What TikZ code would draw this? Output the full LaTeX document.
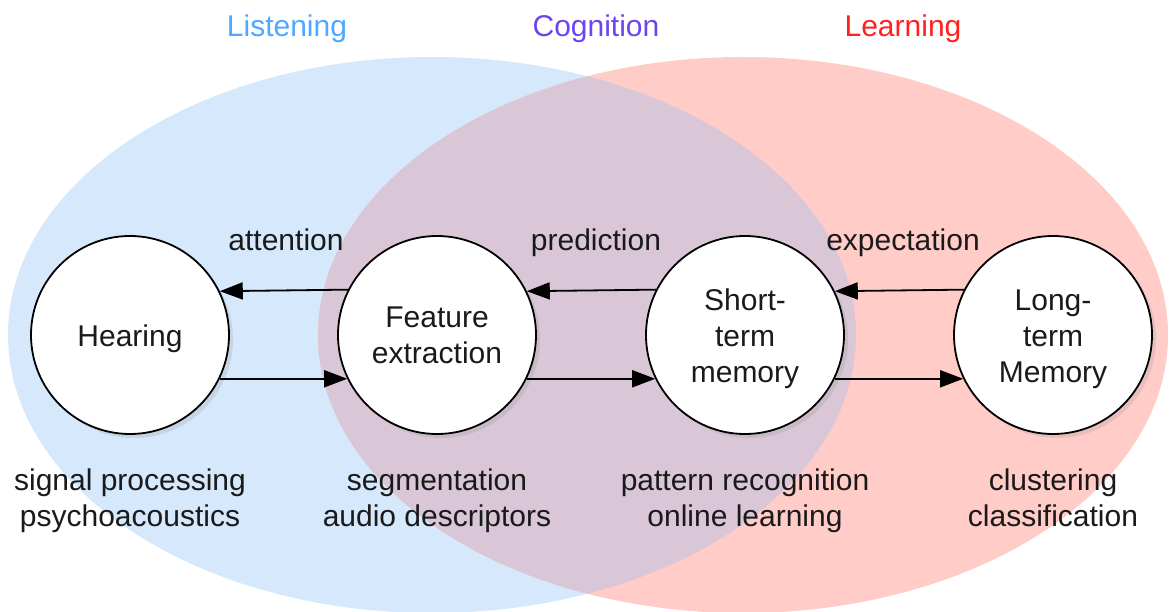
\documentclass[tikz,border=0pt]{standalone}
\usepackage{fontspec}
\setmainfont{Liberation Sans}
\usetikzlibrary{shadows,arrows.meta}
\definecolor{blueell}{HTML}{D6E8FB}
\definecolor{pinkell}{HTML}{FFCCC8}
\definecolor{overell}{HTML}{D9C6D6}
\definecolor{listcol}{HTML}{4FA8FF}
\definecolor{cogcol}{HTML}{6A45F0}
\definecolor{learncol}{HTML}{FF2020}
\definecolor{txt}{HTML}{1A1A1A}
\newcommand{\lift}{\rule{0pt}{29.5pt}}
\tikzset{
  stage/.style={circle, draw=black, line width=1.8pt, fill=white, minimum size=198pt, inner sep=0pt,
    align=center, font=\fontsize{30}{36}\selectfont, text=txt,
    drop shadow={opacity=0.18, shadow xshift=4pt, shadow yshift=-4pt}},
  lbl/.style={align=center, anchor=north, inner sep=0pt, font=\fontsize{30}{36}\selectfont, text=txt},
  ttl/.style={anchor=north, inner sep=0pt, font=\fontsize{30}{36}\selectfont},
  flow/.style={line width=1.8pt, -{Triangle[length=23pt, width=17pt]}}
}
\begin{document}
\begin{tikzpicture}[x=1pt, y=-1pt]
\useasboundingbox (0,0) rectangle (1172,612);
% ellipses
\fill[blueell] (432,335) ellipse [x radius=424, y radius=278];
\fill[pinkell] (743,335) ellipse [x radius=425, y radius=278];
\begin{scope}
  \clip (432,335) ellipse [x radius=424, y radius=278];
  \fill[overell] (743,335) ellipse [x radius=425, y radius=278];
\end{scope}
% titles (baseline at y=36; strut height 25.2)
\node[ttl, text=listcol] (tlisten) at (287,10.8) {\strut Listening};
\node[ttl, text=cogcol] (tcog) at (596,10.8) {\strut Cognition};
\node[ttl, text=learncol] (tlearn) at (903,10.8) {\strut Learning};
% stages
\node[stage] (hear) at (130,335) {\lift Hearing};
\node[stage] (feat) at (437,335) {Feature\\extraction};
\node[stage] (stm) at (745,335) {\lift Short-\\term\\memory};
\node[stage] (ltm) at (1053,335) {\lift Long-\\term\\Memory};
% arrows
\draw[flow] (feat.153.3) -- (hear.26.7);
\draw[flow] (stm.153.3) -- (feat.26.7);
\draw[flow] (ltm.153.3) -- (stm.26.7);
\draw[flow] (hear.-26.7) -- (feat.206.7);
\draw[flow] (feat.-26.7) -- (stm.206.7);
\draw[flow] (stm.-26.7) -- (ltm.206.7);
% arrow labels (baseline at y=250)
\node[lbl] (latt) at (286,224.8) {\strut attention};
\node[lbl] (lpred) at (596,224.8) {\strut prediction};
\node[lbl] (lexp) at (903,224.8) {\strut expectation};
% lower labels (first baseline at y=490)
\node[lbl] (dhear) at (130,464.8) {\strut signal processing\\psychoacoustics\strut};
\node[lbl] (dfeat) at (437,464.8) {\strut segmentation\\audio descriptors\strut};
\node[lbl] (dstm) at (745,464.8) {\strut pattern recognition\\online learning\strut};
\node[lbl] (dltm) at (1053,464.8) {\strut clustering\\classification\strut};
\end{tikzpicture}
\end{document}
